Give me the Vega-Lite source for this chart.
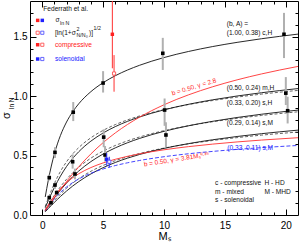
{
"$schema": "https://vega.github.io/schema/vega-lite/v6.json",
"width": 268, "height": 214,
"autosize": {"type": "none"},
"padding": {"left": 30, "top": 1, "right": 1, "bottom": 27},
"background": "white",
"view": {"stroke": "black", "strokeWidth": 1},
"config": {"font": "Liberation Sans",
  "axis": {"grid": false, "domain": false, "tickColor": "black", "tickWidth": 1, "labelColor": "black", "labelFont": "Liberation Sans", "labelFontSize": 10, "titleFont": "Liberation Sans", "titleFontSize": 11, "titleFontWeight": "normal", "titleColor": "black"}},
"datasets": {
"dummy": [{"M": 0, "s": 0}],
"curves": [
{"c":"cH","M":0.25,"s":0.1518},{"c":"cH","M":0.5,"s":0.2912},{"c":"cH","M":0.75,"s":0.4118},{"c":"cH","M":1,"s":0.5132},{"c":"cH","M":1.25,"s":0.598},{"c":"cH","M":1.5,"s":0.6692},{"c":"cH","M":2,"s":0.782},{"c":"cH","M":2.5,"s":0.8676},{"c":"cH","M":3,"s":0.9354},{"c":"cH","M":4,"s":1.0376},{"c":"cH","M":5,"s":1.1127},{"c":"cH","M":6,"s":1.1714},{"c":"cH","M":7,"s":1.2193},{"c":"cH","M":8,"s":1.2595},{"c":"cH","M":10,"s":1.3243},{"c":"cH","M":12,"s":1.3752},{"c":"cH","M":14,"s":1.4169},{"c":"cH","M":16,"s":1.4521},{"c":"cH","M":18,"s":1.4825},{"c":"cH","M":21,"s":1.5214},
{"c":"mH","M":0.25,"s":0.061},{"c":"mH","M":0.5,"s":0.1206},{"c":"mH","M":0.75,"s":0.1777},{"c":"mH","M":1,"s":0.2314},{"c":"mH","M":1.25,"s":0.2813},{"c":"mH","M":1.5,"s":0.3273},{"c":"mH","M":2,"s":0.4079},{"c":"mH","M":2.5,"s":0.4752},{"c":"mH","M":3,"s":0.5319},{"c":"mH","M":4,"s":0.6215},{"c":"mH","M":5,"s":0.6895},{"c":"mH","M":6,"s":0.7434},{"c":"mH","M":7,"s":0.7875},{"c":"mH","M":8,"s":0.8246},{"c":"mH","M":10,"s":0.8843},{"c":"mH","M":12,"s":0.9309},{"c":"mH","M":14,"s":0.969},{"c":"mH","M":16,"s":1.0009},{"c":"mH","M":18,"s":1.0284},{"c":"mH","M":21,"s":1.0634},
{"c":"sH","M":0.25,"s":0.0368},{"c":"sH","M":0.5,"s":0.0733},{"c":"sH","M":0.75,"s":0.109},{"c":"sH","M":1,"s":0.1438},{"c":"sH","M":1.25,"s":0.1773},{"c":"sH","M":1.5,"s":0.2094},{"c":"sH","M":2,"s":0.2689},{"c":"sH","M":2.5,"s":0.3222},{"c":"sH","M":3,"s":0.3696},{"c":"sH","M":4,"s":0.4492},{"c":"sH","M":5,"s":0.5127},{"c":"sH","M":6,"s":0.5645},{"c":"sH","M":7,"s":0.6077},{"c":"sH","M":8,"s":0.6443},{"c":"sH","M":10,"s":0.7037},{"c":"sH","M":12,"s":0.7502},{"c":"sH","M":14,"s":0.7882},{"c":"sH","M":16,"s":0.8201},{"c":"sH","M":18,"s":0.8475},{"c":"sH","M":21,"s":0.8823},
{"c":"sM","M":0.25,"s":0.0271},{"c":"sM","M":0.5,"s":0.054},{"c":"sM","M":0.75,"s":0.0804},{"c":"sM","M":1,"s":0.1063},{"c":"sM","M":1.25,"s":0.1315},{"c":"sM","M":1.5,"s":0.1558},{"c":"sM","M":2,"s":0.2015},{"c":"sM","M":2.5,"s":0.2432},{"c":"sM","M":3,"s":0.2809},{"c":"sM","M":4,"s":0.3455},{"c":"sM","M":5,"s":0.3981},{"c":"sM","M":6,"s":0.4416},{"c":"sM","M":7,"s":0.4782},{"c":"sM","M":8,"s":0.5094},{"c":"sM","M":10,"s":0.5602},{"c":"sM","M":12,"s":0.6002},{"c":"sM","M":14,"s":0.6329},{"c":"sM","M":16,"s":0.6604},{"c":"sM","M":18,"s":0.6839},{"c":"sM","M":21,"s":0.7139},
{"c":"mHd","M":0.25,"s":0.0717},{"c":"mHd","M":0.5,"s":0.1409},{"c":"mHd","M":0.75,"s":0.2057},{"c":"mHd","M":1,"s":0.2651},{"c":"mHd","M":1.25,"s":0.3186},{"c":"mHd","M":1.5,"s":0.3666},{"c":"mHd","M":2,"s":0.4478},{"c":"mHd","M":2.5,"s":0.5132},{"c":"mHd","M":3,"s":0.5668},{"c":"mHd","M":4,"s":0.6497},{"c":"mHd","M":5,"s":0.7116},{"c":"mHd","M":6,"s":0.7602},{"c":"mHd","M":7,"s":0.7999},{"c":"mHd","M":8,"s":0.8332},{"c":"mHd","M":10,"s":0.8868},{"c":"mHd","M":12,"s":0.9287},{"c":"mHd","M":14,"s":0.9629},{"c":"mHd","M":16,"s":0.9917},{"c":"mHd","M":18,"s":1.0165},{"c":"mHd","M":21,"s":1.0481},
{"c":"sHd","M":0.25,"s":0.0429},{"c":"sHd","M":0.5,"s":0.0851},{"c":"sHd","M":0.75,"s":0.1261},{"c":"sHd","M":1,"s":0.1654},{"c":"sHd","M":1.25,"s":0.2025},{"c":"sHd","M":1.5,"s":0.2375},{"c":"sHd","M":2,"s":0.3006},{"c":"sHd","M":2.5,"s":0.355},{"c":"sHd","M":3,"s":0.402},{"c":"sHd","M":4,"s":0.4782},{"c":"sHd","M":5,"s":0.5373},{"c":"sHd","M":6,"s":0.5845},{"c":"sHd","M":7,"s":0.6235},{"c":"sHd","M":8,"s":0.6563},{"c":"sHd","M":10,"s":0.7093},{"c":"sHd","M":12,"s":0.7507},{"c":"sHd","M":14,"s":0.7845},{"c":"sHd","M":16,"s":0.8128},{"c":"sHd","M":18,"s":0.8371},{"c":"sHd","M":21,"s":0.8681},
{"c":"sMd","M":0.25,"s":0.0313},{"c":"sMd","M":0.5,"s":0.0622},{"c":"sMd","M":0.75,"s":0.0923},{"c":"sMd","M":1,"s":0.1215},{"c":"sMd","M":1.25,"s":0.1494},{"c":"sMd","M":1.5,"s":0.1759},{"c":"sMd","M":2,"s":0.2247},{"c":"sMd","M":2.5,"s":0.2677},{"c":"sMd","M":3,"s":0.3054},{"c":"sMd","M":4,"s":0.3678},{"c":"sMd","M":5,"s":0.417},{"c":"sMd","M":6,"s":0.4568},{"c":"sMd","M":7,"s":0.4897},{"c":"sMd","M":8,"s":0.5176},{"c":"sMd","M":10,"s":0.5626},{"c":"sMd","M":12,"s":0.5979},{"c":"sMd","M":14,"s":0.6267},{"c":"sMd","M":16,"s":0.6509},{"c":"sMd","M":18,"s":0.6716},{"c":"sMd","M":21,"s":0.698},
{"c":"blue","M":0.25,"s":0.0362},{"c":"blue","M":0.5,"s":0.0713},{"c":"blue","M":0.75,"s":0.1047},{"c":"blue","M":1,"s":0.1358},{"c":"blue","M":1.25,"s":0.1644},{"c":"blue","M":1.5,"s":0.1904},{"c":"blue","M":2,"s":0.2353},{"c":"blue","M":2.5,"s":0.2722},{"c":"blue","M":3,"s":0.3029},{"c":"blue","M":4,"s":0.351},{"c":"blue","M":5,"s":0.3872},{"c":"blue","M":6,"s":0.4157},{"c":"blue","M":7,"s":0.439},{"c":"blue","M":8,"s":0.4586},{"c":"blue","M":10,"s":0.4902},{"c":"blue","M":12,"s":0.5148},{"c":"blue","M":14,"s":0.5349},{"c":"blue","M":16,"s":0.5518},{"c":"blue","M":18,"s":0.5663},{"c":"blue","M":21,"s":0.5849},
{"c":"red1","M":0.25,"s":0.0365},{"c":"red1","M":0.5,"s":0.0729},{"c":"red1","M":0.75,"s":0.109},{"c":"red1","M":1,"s":0.1447},{"c":"red1","M":1.25,"s":0.1799},{"c":"red1","M":1.5,"s":0.2145},{"c":"red1","M":2,"s":0.2815},{"c":"red1","M":2.5,"s":0.3452},{"c":"red1","M":3,"s":0.4052},{"c":"red1","M":4,"s":0.514},{"c":"red1","M":5,"s":0.6084},{"c":"red1","M":6,"s":0.6902},{"c":"red1","M":7,"s":0.7612},{"c":"red1","M":8,"s":0.8234},{"c":"red1","M":10,"s":0.9271},{"c":"red1","M":12,"s":1.0102},{"c":"red1","M":14,"s":1.0788},{"c":"red1","M":16,"s":1.1367},{"c":"red1","M":18,"s":1.1865},{"c":"red1","M":21,"s":1.2498},
{"c":"red2","M":0.25,"s":0.0431},{"c":"red2","M":0.5,"s":0.0847},{"c":"red2","M":0.75,"s":0.1239},{"c":"red2","M":1,"s":0.16},{"c":"red2","M":1.25,"s":0.1928},{"c":"red2","M":1.5,"s":0.2223},{"c":"red2","M":2,"s":0.2726},{"c":"red2","M":2.5,"s":0.3133},{"c":"red2","M":3,"s":0.3469},{"c":"red2","M":4,"s":0.399},{"c":"red2","M":5,"s":0.438},{"c":"red2","M":6,"s":0.4686},{"c":"red2","M":7,"s":0.4936},{"c":"red2","M":8,"s":0.5147},{"c":"red2","M":10,"s":0.5484},{"c":"red2","M":12,"s":0.5749},{"c":"red2","M":14,"s":0.5964},{"c":"red2","M":16,"s":0.6146},{"c":"red2","M":18,"s":0.6302},{"c":"red2","M":21,"s":0.6501}
],
"pts": [
{"g":"black","M":0.58,"s":0.314,"lo":0.29,"hi":0.34},
{"g":"black","M":1.05,"s":0.527,"lo":0.48,"hi":0.57},
{"g":"black","M":2.55,"s":0.865,"lo":0.79,"hi":0.95},
{"g":"black","M":5.0,"s":1.11,"lo":1.03,"hi":1.21},
{"g":"black","M":9.9,"s":1.36,"lo":1.22,"hi":1.49},
{"g":"black","M":19.85,"s":1.52,"lo":1.32,"hi":1.7},
{"g":"black","M":2.5,"s":0.448,"lo":0.39,"hi":0.51},
{"g":"black","M":5.05,"s":0.655,"lo":0.57,"hi":0.72},
{"g":"black","M":10.05,"s":0.883,"lo":0.75,"hi":0.98},
{"g":"black","M":20.0,"s":1.025,"lo":0.925,"hi":1.16},
{"g":"black","M":2.69,"s":0.345,"lo":0.3,"hi":0.39},
{"g":"black","M":5.16,"s":0.505,"lo":0.45,"hi":0.58},
{"g":"black","M":10.16,"s":0.673,"lo":0.57,"hi":0.78},
{"g":"black","M":20.15,"s":0.877,"lo":0.77,"hi":0.995},
{"g":"black","M":1.05,"s":0.252,"lo":0.22,"hi":0.28},
{"g":"black","M":1.19,"s":0.188,"lo":0.165,"hi":0.21},
{"g":"black","M":0.58,"s":0.146,"lo":0.125,"hi":0.165},
{"g":"black","M":0.72,"s":0.103,"lo":0.085,"hi":0.12},
{"g":"redfill","M":5.76,"s":1.52,"lo":1.234,"hi":1.8},
{"g":"redopen","M":5.9,"s":1.19,"lo":1.037,"hi":1.345},
{"g":"bluefill","M":5.3,"s":0.468,"lo":0.41,"hi":0.52},
{"g":"blueopen","M":5.51,"s":0.448,"lo":0.4,"hi":0.49},
{"g":"redfill","M":-0.37,"s":1.637},{"g":"bluefill","M":0.01,"s":1.637},
{"g":"redopen","M":-0.37,"s":1.533},{"g":"blueopen","M":0.01,"s":1.533},
{"g":"redfill","M":-0.37,"s":1.432},{"g":"redopen","M":0.01,"s":1.432},
{"g":"bluefill","M":-0.37,"s":1.312},{"g":"blueopen","M":0.01,"s":1.312}
],
"txt": [
{"k":"ann","M":0.09,"s":1.73,"t":"Federrath et al."},
{"k":"ann","M":1.1,"s":1.637,"t":"σ"},
{"k":"small","M":1.46,"s":1.614,"t":"ln N"},
{"k":"ann","M":1.05,"s":1.535,"t":"[ln(1+σ"},
{"k":"small","M":2.82,"s":1.566,"t":"2"},
{"k":"small","M":2.82,"s":1.513,"t":"N/N₀"},
{"k":"ann","M":3.85,"s":1.535,"t":")]"},
{"k":"small","M":4.22,"s":1.572,"t":"1/2"},
{"k":"red","M":1.05,"s":1.432,"t":"compressive"},
{"k":"blue","M":1.05,"s":1.312,"t":"solenoidal"},
{"k":"ann","M":15.15,"s":1.606,"t":"(b, A) ="},
{"k":"ann","M":15.15,"s":1.528,"t":"(1.00, 0.38) c,H"},
{"k":"ann","M":15.15,"s":1.066,"t":"(0.50, 0.24) m,H"},
{"k":"ann","M":15.15,"s":0.944,"t":"(0.33, 0.20) s,H"},
{"k":"ann","M":15.15,"s":0.774,"t":"(0.29, 0.14) s,M"},
{"k":"blue","M":15.2,"s":0.561,"t":"(0.33, 0.11) s,M"},
{"k":"ann","M":14.19,"s":0.267,"t":"c - compressive"},
{"k":"ann","M":18.25,"s":0.267,"t":"H - HD"},
{"k":"ann","M":14.19,"s":0.196,"t":"m - mixed"},
{"k":"ann","M":18.25,"s":0.196,"t":"M - MHD"},
{"k":"ann","M":14.19,"s":0.126,"t":"s - solenoidal"},
{"k":"rot1","M":12.46,"s":1.077,"t":"b = 0.50, γ = 2.8"},
{"k":"rot2","M":11.03,"s":0.468,"t":"b = 0.50, γ = 3.81Mₛ⁰·³⁵"},
{"k":"yt","M":-2.89,"s":0.837,"t":"σ"},
{"k":"ys","M":-2.5,"s":0.94,"t":"ln N"}
]
},
"encoding": {
  "x": {"field": "M", "type": "quantitative", "scale": {"domain": [-1, 21], "nice": false, "zero": false}, "axis": null},
  "y": {"field": "s", "type": "quantitative", "scale": {"domain": [0, 1.8], "nice": false, "zero": false}, "axis": null}
},
"layer": [
{"data": {"name": "dummy"}, "mark": {"type": "point", "opacity": 0},
 "encoding": {
  "x": {"field": "M", "type": "quantitative", "scale": {"domain": [-1, 21], "nice": false, "zero": false}, "axis": {"orient": "bottom", "values": [0, 5, 10, 15, 20], "ticks": false, "labelPadding": 5, "title": "Mₛ", "titlePadding": 0}},
  "y": {"field": "s", "type": "quantitative", "scale": {"domain": [0, 1.8], "nice": false, "zero": false}, "axis": {"orient": "left", "values": [0, 0.5, 1, 1.5], "format": ".1f", "ticks": false, "labelPadding": 3, "title": null}}}},
{"data": {"name": "dummy"}, "mark": {"type": "point", "opacity": 0},
 "encoding": {
  "x": {"field": "M", "type": "quantitative", "scale": {"domain": [-1, 21], "nice": false, "zero": false}, "axis": {"orient": "bottom", "values": [0, 5, 10, 15, 20], "labels": false, "tickSize": -6, "title": null}},
  "y": {"field": "s", "type": "quantitative", "scale": {"domain": [0, 1.8], "nice": false, "zero": false}, "axis": {"orient": "left", "values": [0.5, 1, 1.5], "labels": false, "tickSize": -6, "title": null}}}},
{"data": {"name": "dummy"}, "mark": {"type": "point", "opacity": 0},
 "encoding": {
  "x": {"field": "M", "type": "quantitative", "scale": {"domain": [-1, 21], "nice": false, "zero": false}, "axis": {"orient": "bottom", "values": [1,2,3,4,6,7,8,9,11,12,13,14,16,17,18,19], "labels": false, "tickSize": -3, "title": null}},
  "y": {"field": "s", "type": "quantitative", "scale": {"domain": [0, 1.8], "nice": false, "zero": false}, "axis": {"orient": "left", "values": [0.1,0.2,0.3,0.4,0.6,0.7,0.8,0.9,1.1,1.2,1.3,1.4,1.6,1.7], "labels": false, "tickSize": -3, "title": null}}}},
{"data": {"name": "dummy"}, "mark": {"type": "point", "opacity": 0},
 "encoding": {
  "x": {"field": "M", "type": "quantitative", "scale": {"domain": [-1, 21], "nice": false, "zero": false}, "axis": {"orient": "top", "values": [0, 5, 10, 15, 20], "labels": false, "tickSize": -6, "title": null}},
  "y": {"field": "s", "type": "quantitative", "scale": {"domain": [0, 1.8], "nice": false, "zero": false}, "axis": {"orient": "right", "values": [0.5, 1, 1.5], "labels": false, "tickSize": -6, "title": null}}}},
{"data": {"name": "dummy"}, "mark": {"type": "point", "opacity": 0},
 "encoding": {
  "x": {"field": "M", "type": "quantitative", "scale": {"domain": [-1, 21], "nice": false, "zero": false}, "axis": {"orient": "top", "values": [1,2,3,4,6,7,8,9,11,12,13,14,16,17,18,19], "labels": false, "tickSize": -3, "title": null}},
  "y": {"field": "s", "type": "quantitative", "scale": {"domain": [0, 1.8], "nice": false, "zero": false}, "axis": {"orient": "right", "values": [0.1,0.2,0.3,0.4,0.6,0.7,0.8,0.9,1.1,1.2,1.3,1.4,1.6,1.7], "labels": false, "tickSize": -3, "title": null}}}},
{"data": {"name": "curves"}, "transform": [{"filter": {"field": "c", "oneOf": ["mHd", "sHd", "sMd"]}}],
 "mark": {"type": "line", "color": "#555555", "strokeWidth": 0.9, "strokeDash": [3, 2], "interpolate": "monotone"},
 "encoding": {"detail": {"field": "c"}}},
{"data": {"name": "curves"}, "transform": [{"filter": {"field": "c", "oneOf": ["cH", "mH", "sH", "sM"]}}],
 "mark": {"type": "line", "color": "#111111", "strokeWidth": 0.9, "interpolate": "monotone"},
 "encoding": {"detail": {"field": "c"}}},
{"data": {"name": "curves"}, "transform": [{"filter": {"field": "c", "equal": "blue"}}],
 "mark": {"type": "line", "color": "#3030ff", "strokeWidth": 0.9, "strokeDash": [4, 2], "interpolate": "monotone"},
 "encoding": {}},
{"data": {"name": "curves"}, "transform": [{"filter": {"field": "c", "oneOf": ["red1", "red2"]}}],
 "mark": {"type": "line", "color": "#ff3030", "strokeWidth": 0.9, "interpolate": "monotone"},
 "encoding": {"detail": {"field": "c"}}},
{"data": {"name": "pts"}, "transform": [{"filter": "datum.g == 'black'"}],
 "mark": {"type": "rule", "color": "#b0b0b0", "strokeWidth": 2},
 "encoding": {"y": {"field": "lo", "type": "quantitative"}, "y2": {"field": "hi"}}},
{"data": {"name": "pts"}, "transform": [{"filter": "datum.g == 'black'"}],
 "mark": {"type": "point", "shape": "square", "filled": true, "color": "black", "size": 13, "opacity": 1}},
{"data": {"name": "pts"}, "transform": [{"filter": "(datum.g == 'redfill' || datum.g == 'redopen') && isValid(datum.lo)"}],
 "mark": {"type": "rule", "color": "#ff3030", "strokeWidth": 1},
 "encoding": {"y": {"field": "lo", "type": "quantitative"}, "y2": {"field": "hi"}}},
{"data": {"name": "pts"}, "transform": [{"filter": "(datum.g == 'bluefill' || datum.g == 'blueopen') && isValid(datum.lo)"}],
 "mark": {"type": "rule", "color": "#3030ff", "strokeWidth": 1},
 "encoding": {"y": {"field": "lo", "type": "quantitative"}, "y2": {"field": "hi"}}},
{"data": {"name": "pts"}, "transform": [{"filter": "datum.g == 'redfill'"}],
 "mark": {"type": "point", "shape": "square", "filled": true, "color": "#ff2020", "size": 12, "opacity": 1}},
{"data": {"name": "pts"}, "transform": [{"filter": "datum.g == 'bluefill'"}],
 "mark": {"type": "point", "shape": "square", "filled": true, "color": "#2020ff", "size": 12, "opacity": 1}},
{"data": {"name": "pts"}, "transform": [{"filter": "datum.g == 'redopen'"}],
 "mark": {"type": "point", "shape": "square", "filled": false, "fill": "white", "color": "#ff4040", "strokeWidth": 0.8, "size": 10, "opacity": 1}},
{"data": {"name": "pts"}, "transform": [{"filter": "datum.g == 'blueopen'"}],
 "mark": {"type": "point", "shape": "square", "filled": false, "fill": "white", "color": "#4040ff", "strokeWidth": 0.8, "size": 10, "opacity": 1}},
{"data": {"name": "txt"}, "transform": [{"filter": "datum.k == 'ann'"}],
 "mark": {"type": "text", "align": "left", "baseline": "middle", "fontSize": 6.6, "color": "#111111"},
 "encoding": {"text": {"field": "t"}}},
{"data": {"name": "txt"}, "transform": [{"filter": "datum.k == 'small'"}],
 "mark": {"type": "text", "align": "left", "baseline": "middle", "fontSize": 5.3, "color": "#111111"},
 "encoding": {"text": {"field": "t"}}},
{"data": {"name": "txt"}, "transform": [{"filter": "datum.k == 'red'"}],
 "mark": {"type": "text", "align": "left", "baseline": "middle", "fontSize": 6.6, "color": "#ff2020"},
 "encoding": {"text": {"field": "t"}}},
{"data": {"name": "txt"}, "transform": [{"filter": "datum.k == 'blue'"}],
 "mark": {"type": "text", "align": "left", "baseline": "middle", "fontSize": 6.6, "color": "#2020ff"},
 "encoding": {"text": {"field": "t"}}},
{"data": {"name": "txt"}, "transform": [{"filter": "datum.k == 'rot1'"}],
 "mark": {"type": "text", "align": "center", "baseline": "middle", "fontSize": 6.4, "color": "#ff2020", "angle": 343},
 "encoding": {"text": {"field": "t"}}},
{"data": {"name": "txt"}, "transform": [{"filter": "datum.k == 'rot2'"}],
 "mark": {"type": "text", "align": "center", "baseline": "middle", "fontSize": 6.4, "color": "#ff2020", "angle": 351},
 "encoding": {"text": {"field": "t"}}},
{"data": {"name": "txt"}, "transform": [{"filter": "datum.k == 'yt'"}],
 "mark": {"type": "text", "align": "center", "baseline": "middle", "fontSize": 11, "color": "black", "angle": 270},
 "encoding": {"text": {"field": "t"}}},
{"data": {"name": "txt"}, "transform": [{"filter": "datum.k == 'ys'"}],
 "mark": {"type": "text", "align": "center", "baseline": "middle", "fontSize": 6.5, "color": "black", "angle": 270},
 "encoding": {"text": {"field": "t"}}}
],
"resolve": {"axis": {"x": "independent", "y": "independent"}}
}
